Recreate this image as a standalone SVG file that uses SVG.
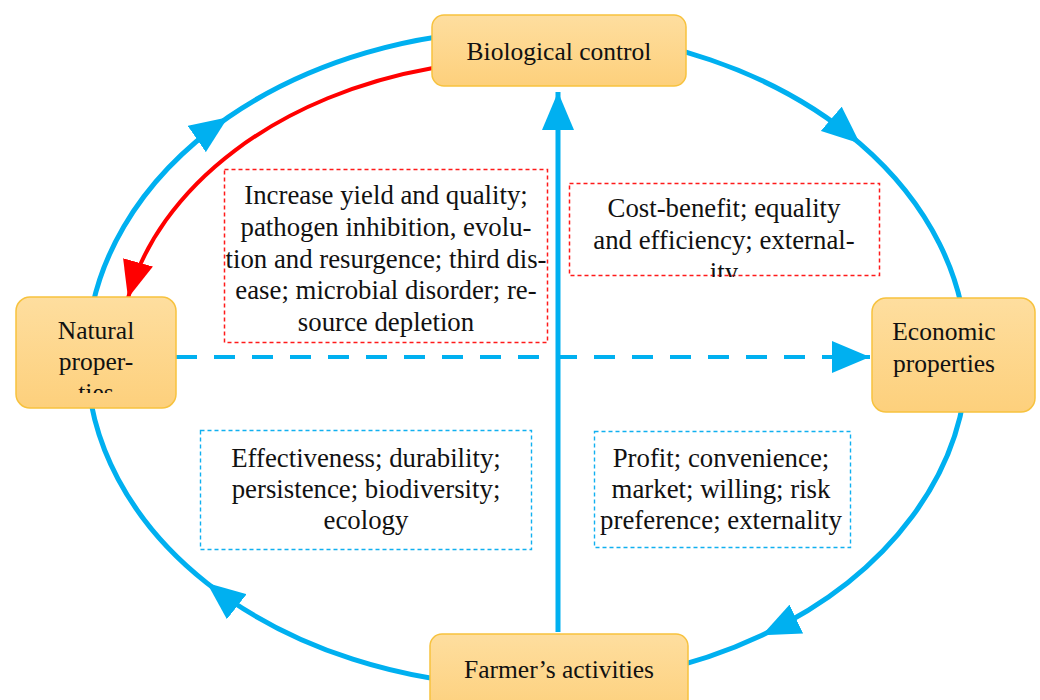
<svg xmlns="http://www.w3.org/2000/svg" width="1040" height="700" viewBox="0 0 1040 700">
<style>
.node rect{fill:url(#ng);stroke:#F7C23E;stroke-width:1.5}
.nt{font-family:"Liberation Serif","Times New Roman",serif;font-size:25.5px;fill:#111;text-anchor:middle}
.bt{font-family:"Liberation Serif","Times New Roman",serif;font-size:26.8px;fill:#111;text-anchor:middle}
.ring{fill:none;stroke:#00B0F0;stroke-width:5;marker-mid:url(#ab)}
.rbox{fill:none;stroke:#FF1A1A;stroke-width:1.5;stroke-dasharray:4 3}
.bbox{fill:none;stroke:#10B0F0;stroke-width:1.4;stroke-dasharray:4 3}
</style>
<defs>
<linearGradient id="ng" x1="0" y1="0" x2="0" y2="1">
<stop offset="0" stop-color="#FEDE9F"/>
<stop offset="1" stop-color="#FDD07C"/>
</linearGradient>
<marker id="ab" markerUnits="userSpaceOnUse" markerWidth="38" markerHeight="32" viewBox="0 0 38 32" refX="38" refY="16" orient="auto">
<path d="M0,0 L38,16 L0,32 z" fill="#00B0F0"/>
</marker>
<marker id="ar" markerUnits="userSpaceOnUse" markerWidth="37" markerHeight="31" viewBox="0 0 37 31" refX="37" refY="15.5" orient="auto">
<path d="M0,0 L37,15.5 L0,31 z" fill="#FF0000"/>
</marker>
<clipPath id="cN"><rect x="16" y="300" width="160" height="93"/></clipPath>
<clipPath id="cC"><rect x="569" y="183" width="311" height="94"/></clipPath>
</defs>
<rect width="1040" height="700" fill="#fff"/>
<g id="connectors">
<path class="ring" d="M 87 358 A 440 328 0 0 1 228 117.37 A 440 328 0 0 1 527 30"/>
<path class="ring" d="M 527 30 A 440 328 0 0 1 860 143.61 A 440 328 0 0 1 967 358"/>
<path class="ring" d="M 967 358 A 440 328 0 0 1 762 635.3 A 440 328 0 0 1 527 686"/>
<path class="ring" d="M 527 686 A 440 328 0 0 1 207 583.12 A 440 328 0 0 1 87 358"/>
<path d="M 433 68 A 410 298 0 0 0 128 298" fill="none" stroke="#FF0000" stroke-width="4" marker-end="url(#ar)"/>
<line x1="558" y1="632" x2="558" y2="92" stroke="#00B0F0" stroke-width="5" marker-end="url(#ab)"/>
<line x1="176" y1="357" x2="870" y2="357" stroke="#00B0F0" stroke-width="4" stroke-dasharray="21 17" marker-end="url(#ab)"/>
</g>
<g id="box-natural-effects">
<rect class="rbox" x="224.5" y="169.5" width="323" height="173"/>
<text class="bt" x="386" y="204">Increase yield and quality;</text>
<text class="bt" x="386" y="236">pathogen inhibition, evolu-</text>
<text class="bt" x="386" y="268">tion and resurgence; third dis-</text>
<text class="bt" x="386" y="299">ease; microbial disorder; re-</text>
<text class="bt" x="386" y="331">source depletion</text>
</g>
<g id="box-economic-effects">
<rect class="rbox" x="569.5" y="183.5" width="310" height="92"/>
<g clip-path="url(#cC)">
<text class="bt" x="724" y="217">Cost-benefit; equality</text>
<text class="bt" x="724" y="249">and efficiency; external-</text>
<text class="bt" x="724" y="281">ity</text>
</g>
</g>
<g id="box-natural-factors">
<rect class="bbox" x="200.5" y="430.5" width="331" height="119"/>
<text class="bt" x="366" y="467">Effectiveness; durability;</text>
<text class="bt" x="366" y="498">persistence; biodiversity;</text>
<text class="bt" x="366" y="529">ecology</text>
</g>
<g id="box-economic-factors">
<rect class="bbox" x="594.5" y="431.5" width="256" height="116"/>
<text class="bt" x="721" y="467">Profit; convenience;</text>
<text class="bt" x="721" y="498">market; willing; risk</text>
<text class="bt" x="721" y="529">preference; externality</text>
</g>
<g id="node-biological" class="node">
<rect x="432" y="15" width="254" height="71" rx="12"/>
<text class="nt" x="559" y="60">Biological control</text>
</g>
<g id="node-natural" class="node">
<rect x="16" y="297" width="160" height="111" rx="14"/>
<g clip-path="url(#cN)">
<text class="nt" x="96" y="339">Natural</text>
<text class="nt" x="96" y="370">proper-</text>
<text class="nt" x="96" y="401">ties</text>
</g>
</g>
<g id="node-economic" class="node">
<rect x="872" y="298" width="163" height="114" rx="14"/>
<text class="nt" x="944" y="340">Economic</text>
<text class="nt" x="944" y="372">properties</text>
</g>
<g id="node-farmer" class="node">
<rect x="430" y="634" width="258" height="80" rx="12"/>
<text class="nt" x="559" y="678">Farmer’s activities</text>
</g>
</svg>
